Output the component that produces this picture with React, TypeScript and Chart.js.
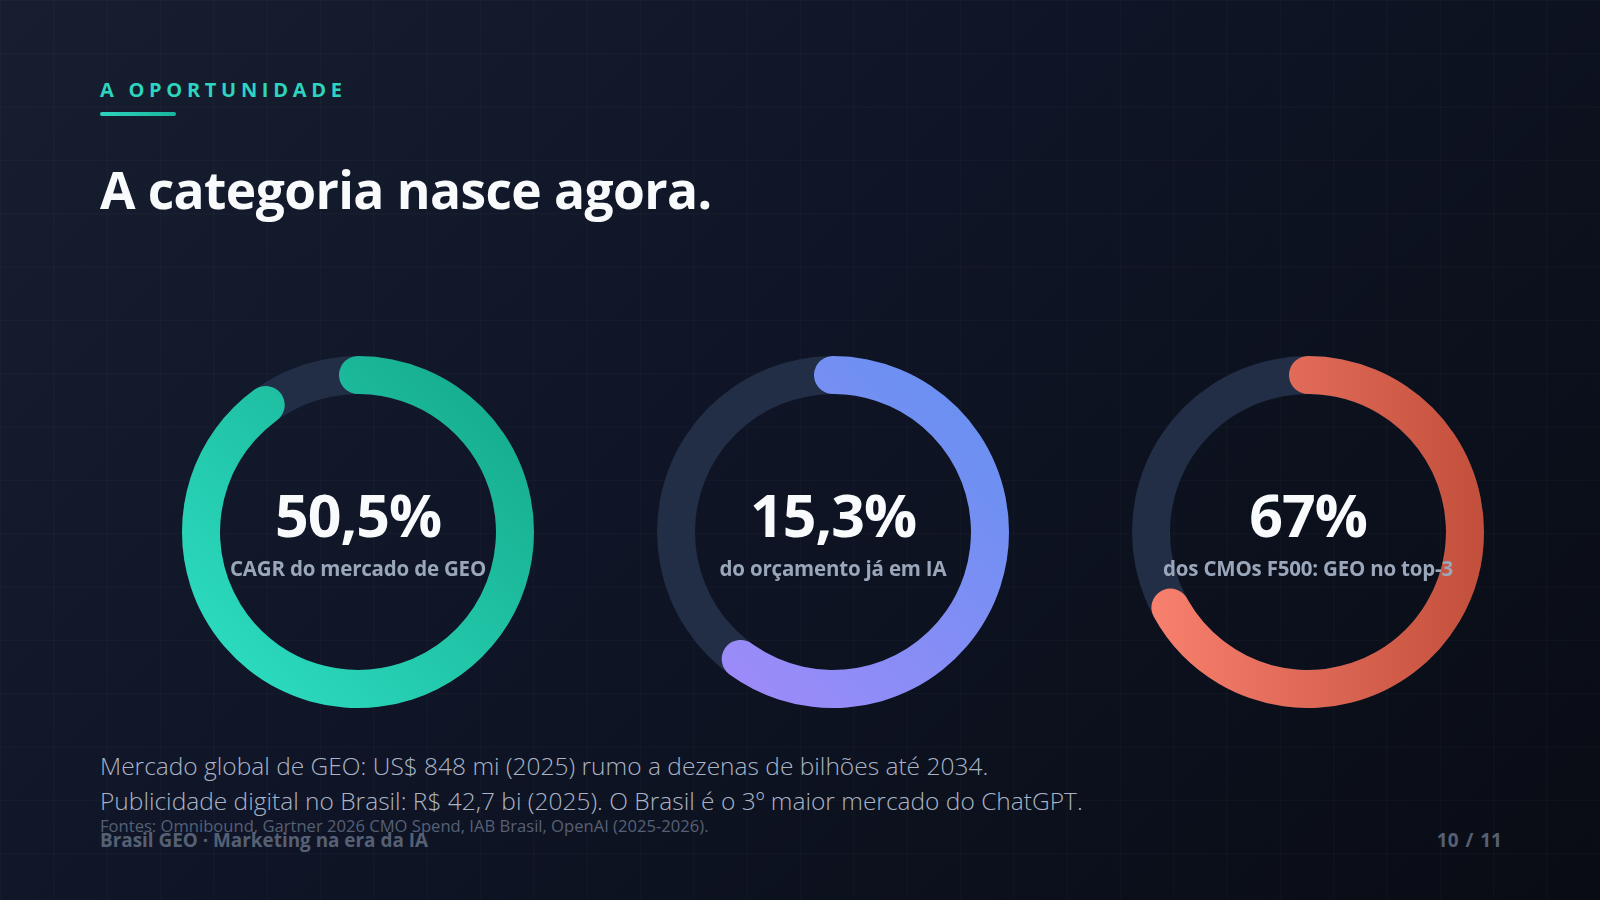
import React, { useEffect, useRef } from "react";
import { Chart, registerables } from "chart.js";

Chart.register(...registerables);

// ---- data ----
const GAUGE_VALUES = ["50,5%", "15,3%", "67%"];
const GAUGE_CAPTIONS = ["CAGR do mercado de GEO", "do orçamento já em IA", "dos CMOs F500: GEO no top-3"];
const GAUGE_FILL = [90, 60, 67]; // share of the ring that is filled (%)
const GRADIENT_FROM = ["#2fe2c6", "#a68afa", "#fb8371"];
const GRADIENT_TO = ["#13a688", "#6191f0", "#c24f3b"];
const GRADIENT_DIR = ["diag", "diag", "horiz"];

const EYEBROW = "A OPORTUNIDADE";
const TITLE = "A categoria nasce agora.";
const BODY_LINES = [
  "Mercado global de GEO: US$ 848 mi (2025) rumo a dezenas de bilhões até 2034.",
  "Publicidade digital no Brasil: R$ 42,7 bi (2025). O Brasil é o 3º maior mercado do ChatGPT.",
];
const SOURCES = "Fontes: Omnibound, Gartner 2026 CMO Spend, IAB Brasil, OpenAI (2025-2026).";
const FOOTER_LEFT = "Brasil GEO · Marketing na era da IA";
const FOOTER_RIGHT = "10 / 11";

// ---- style ----
const FONT = "'Open Sans', 'Noto Sans', sans-serif";
const TRACK = "#222e45";
const RING_SIZE = 352;
const RING_THICK = 38;
const CENTERS_X = [358, 833, 1308];
const CENTER_Y = 532;

const trackPlugin = {
  id: "track",
  beforeDatasetsDraw(chart: any) {
    const arc = chart.getDatasetMeta(0).data[0];
    if (!arc) return;
    const { x, y, innerRadius, outerRadius } = arc.getProps(["x", "y", "innerRadius", "outerRadius"], true);
    const ctx = chart.ctx;
    ctx.save();
    ctx.beginPath();
    ctx.arc(x, y, outerRadius, 0, Math.PI * 2);
    ctx.arc(x, y, innerRadius, 0, Math.PI * 2, true);
    ctx.closePath();
    ctx.fillStyle = TRACK;
    ctx.fill();
    ctx.restore();
  },
};

function Gauge({ index }: { index: number }) {
  const ref = useRef<HTMLCanvasElement | null>(null);
  useEffect(() => {
    if (!ref.current) return;
    const outer = RING_SIZE / 2;
    const mid = outer - RING_THICK / 2;
    const capDeg = ((RING_THICK / 2) / mid) * (180 / Math.PI);
    const filledDeg = GAUGE_FILL[index] * 3.6 + capDeg * 2;
    const chart = new Chart(ref.current, {
      type: "doughnut",
      data: {
        labels: ["valor", "resto"],
        datasets: [
          {
            data: [filledDeg, 360 - filledDeg],
            backgroundColor: (c: any) => {
              if (c.dataIndex === 1) return "rgba(0,0,0,0)";
              const area = c.chart.chartArea;
              if (!area) return GRADIENT_FROM[index];
              const g =
                GRADIENT_DIR[index] === "horiz"
                  ? c.chart.ctx.createLinearGradient(area.left, 0, area.right, 0)
                  : c.chart.ctx.createLinearGradient(area.left, area.bottom, area.right, area.top);
              g.addColorStop(0, GRADIENT_FROM[index]);
              g.addColorStop(1, GRADIENT_TO[index]);
              return g;
            },
            borderWidth: 0,
            borderRadius: [RING_THICK / 2, 0],
            hoverOffset: 0,
          },
        ],
      },
      options: {
        animation: false,
        responsive: false,
        maintainAspectRatio: false,
        devicePixelRatio: 1,
        rotation: -capDeg,
        circumference: 360,
        cutout: `${((outer - RING_THICK) / outer) * 100}%`,
        layout: { padding: 0 },
        events: [],
        plugins: { legend: { display: false }, tooltip: { enabled: false } },
      },
      plugins: [trackPlugin],
    });
    return () => chart.destroy();
  }, [index]);

  const cx = CENTERS_X[index];
  return (
    <>
      <canvas
        ref={ref}
        width={RING_SIZE}
        height={RING_SIZE}
        style={{
          position: "absolute",
          left: cx - RING_SIZE / 2,
          top: CENTER_Y - RING_SIZE / 2,
          width: RING_SIZE,
          height: RING_SIZE,
        }}
      />
      <div
        style={{
          position: "absolute",
          left: cx - 200,
          width: 400,
          top: CENTER_Y - 53,
          textAlign: "center",
          color: "#f8fafc",
          fontFamily: FONT,
          fontWeight: 700,
          fontSize: 59,
          lineHeight: "70px",
          letterSpacing: -1,
        }}
      >
        {GAUGE_VALUES[index]}
      </div>
      <div
        style={{
          position: "absolute",
          left: cx - 200,
          width: 400,
          top: CENTER_Y + 22,
          textAlign: "center",
          color: "#9aa6ba",
          fontFamily: FONT,
          fontWeight: 700,
          fontSize: 20.5,
          lineHeight: "28px",
          letterSpacing: -0.2,
          whiteSpace: "nowrap",
        }}
      >
        {GAUGE_CAPTIONS[index]}
      </div>
    </>
  );
}

export default function App() {
  return (
    <div
      style={{
        position: "fixed",
        left: 0,
        top: 0,
        width: 1600,
        height: 900,
        overflow: "hidden",
        fontFamily: FONT,
        background:
          "linear-gradient(rgba(255,255,255,0.022) 1px, transparent 1px) 0 0 / 53.333px 53.333px, linear-gradient(90deg, rgba(255,255,255,0.022) 1px, transparent 1px) 0 0 / 53.333px 53.333px, linear-gradient(135deg, #161e30 0%, #0f1526 45%, #090c14 100%)",
      }}
    >
      <div
        style={{
          position: "absolute",
          left: 100,
          top: 76,
          color: "#2dd4bf",
          fontWeight: 700,
          fontSize: 20,
          lineHeight: "28px",
          letterSpacing: 4.7,
        }}
      >
        {EYEBROW}
      </div>
      <div
        style={{
          position: "absolute",
          left: 100,
          top: 112,
          width: 76,
          height: 4,
          borderRadius: 2,
          background: "linear-gradient(90deg, #2dd4bf, #19b59c)",
        }}
      />
      <div
        style={{
          position: "absolute",
          left: 100,
          top: 154,
          color: "#f8fafc",
          fontWeight: 700,
          fontSize: 51.5,
          lineHeight: "70px",
          letterSpacing: -0.6,
          whiteSpace: "nowrap",
        }}
      >
        {TITLE}
      </div>

      {GAUGE_VALUES.map((_, i) => (
        <Gauge key={i} index={i} />
      ))}

      {BODY_LINES.map((line, i) => (
        <div
          key={i}
          style={{
            position: "absolute",
            left: 100,
            top: 750 + i * 35,
            color: "#aab4c6",
            fontWeight: 300,
            fontSize: 24.5,
            lineHeight: "32px",
            whiteSpace: "nowrap",
          }}
        >
          {line}
        </div>
      ))}
      <div
        style={{
          position: "absolute",
          left: 100,
          top: 815,
          color: "#566075",
          fontWeight: 400,
          fontSize: 16.6,
          lineHeight: "22px",
          whiteSpace: "nowrap",
        }}
      >
        {SOURCES}
      </div>
      <div
        style={{
          position: "absolute",
          left: 100,
          top: 827,
          color: "#566075",
          fontWeight: 700,
          fontSize: 18.9,
          lineHeight: "26px",
          whiteSpace: "nowrap",
        }}
      >
        {FOOTER_LEFT}
      </div>
      <div
        style={{
          position: "absolute",
          right: 98,
          top: 827,
          color: "#566075",
          fontWeight: 700,
          fontSize: 19,
          lineHeight: "26px",
          wordSpacing: 2,
          whiteSpace: "nowrap",
        }}
      >
        {FOOTER_RIGHT}
      </div>
    </div>
  );
}
